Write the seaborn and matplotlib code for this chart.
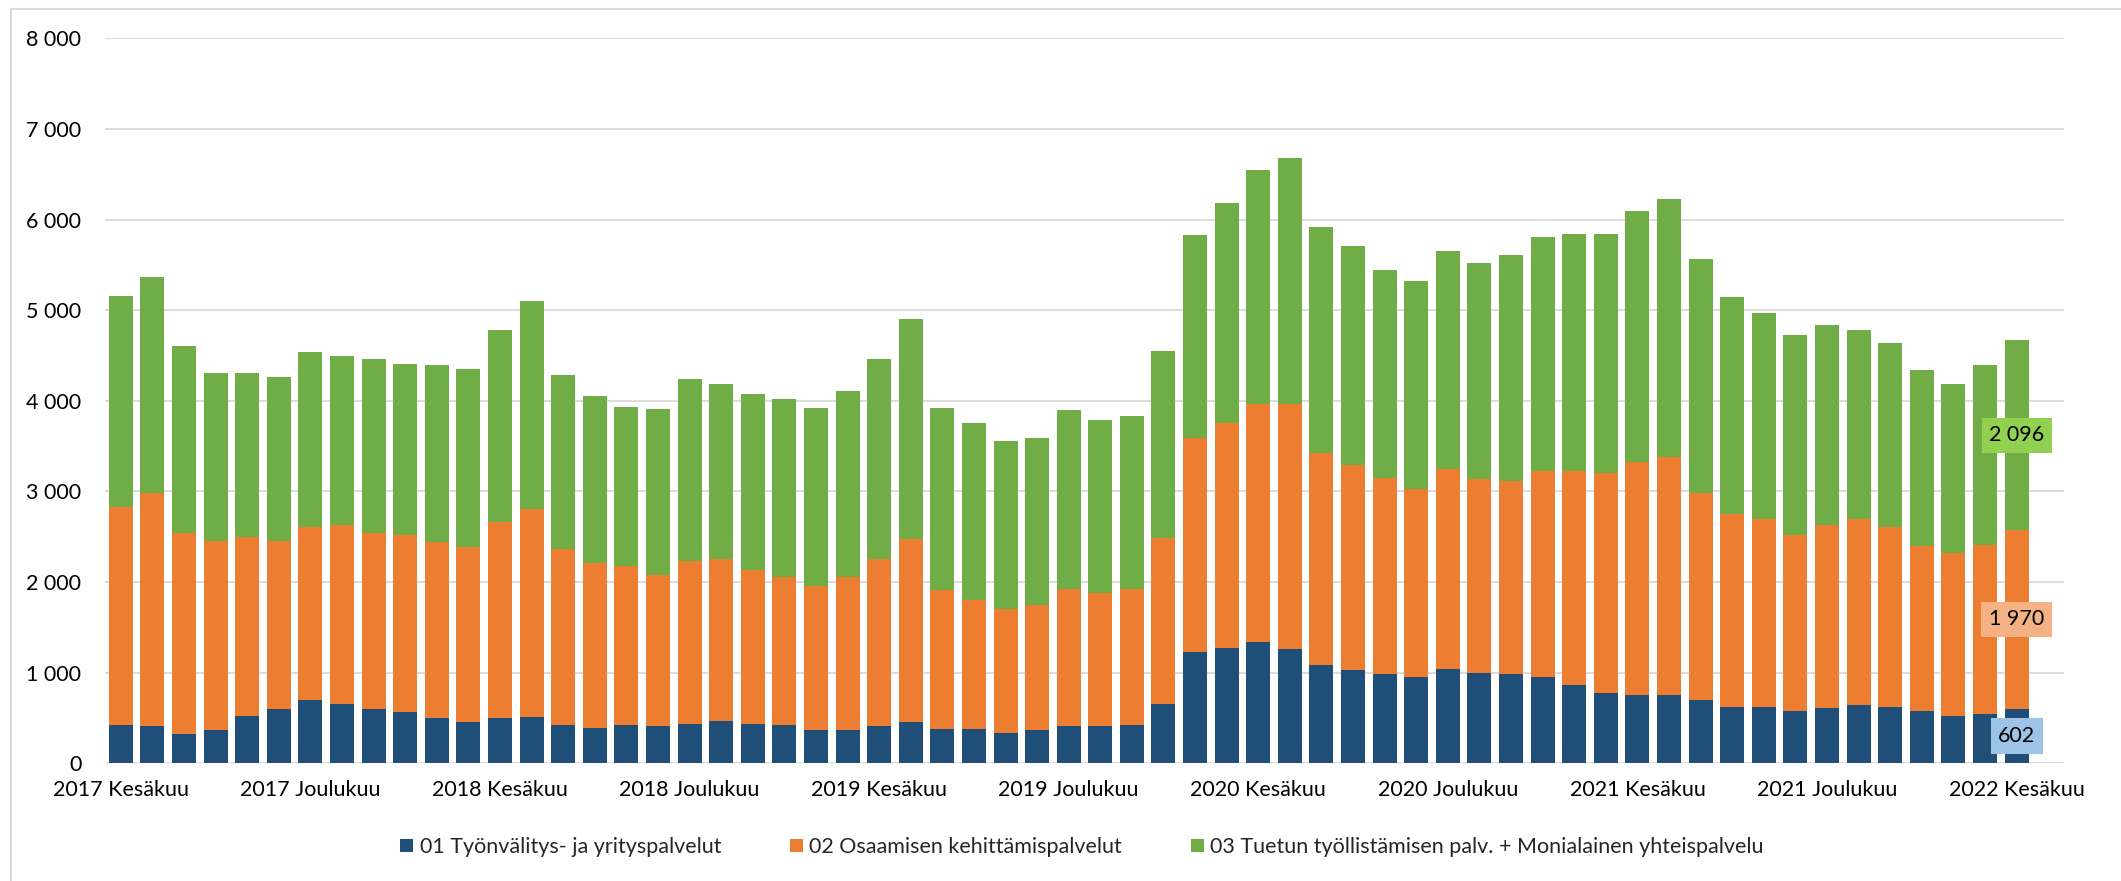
import numpy as np
import pandas as pd
import matplotlib
matplotlib.use("Agg")
import matplotlib.pyplot as plt
import seaborn as sns
from matplotlib.patches import Patch, Rectangle
from matplotlib.ticker import FuncFormatter

# ---- categories ----
month_names = ["Tammikuu", "Helmikuu", "Maaliskuu", "Huhtikuu", "Toukokuu", "Kesäkuu",
               "Heinäkuu", "Elokuu", "Syyskuu", "Lokakuu", "Marraskuu", "Joulukuu"]
months = [f"{2017 + (5 + i) // 12} {month_names[(5 + i) % 12]}" for i in range(61)]

series_names = ["01 Työnvälitys- ja yrityspalvelut",
                "02 Osaamisen kehittämispalvelut",
                "03 Tuetun työllistämisen palv. + Monialainen yhteispalvelu"]

# ---- values ----
s1 = [423, 408, 320, 364, 526, 599, 702, 658, 599, 570,
      496, 452, 496, 511, 423, 393, 423, 408, 437, 467,
      437, 423, 364, 364, 408, 452, 379, 379, 335, 364,
      408, 408, 423, 658, 1231, 1275, 1334, 1261, 1084, 1025,
      981, 952, 1040, 996, 981, 952, 864, 776, 757, 757,
      702, 625, 625, 581, 614, 643, 625, 581, 526, 540, 602]
s2 = [2400, 2577, 2224, 2092, 1974, 1857, 1901, 1974, 1945, 1944,
      1945, 1930, 2165, 2297, 1944, 1813, 1753, 1665, 1798, 1783,
      1691, 1632, 1588, 1691, 1842, 2018, 1529, 1426, 1367, 1382,
      1515, 1470, 1500, 1823, 2364, 2482, 2629, 2702, 2342, 2269,
      2166, 2077, 2210, 2136, 2136, 2268, 2356, 2429, 2566, 2625,
      2283, 2125, 2066, 1933, 2018, 2048, 1978, 1816, 1797, 1871, 1970]
s3 = [2336, 2379, 2056, 1850, 1806, 1805, 1938, 1865, 1920, 1895,
      1953, 1968, 2115, 2291, 1923, 1849, 1761, 1835, 2011, 1937,
      1952, 1970, 1970, 2058, 2216, 2438, 2014, 1952, 1855, 1841,
      1975, 1914, 1913, 2065, 2230, 2424, 2585, 2718, 2487, 2413,
      2296, 2297, 2398, 2384, 2487, 2590, 2619, 2634, 2766, 2840,
      2575, 2399, 2281, 2208, 2208, 2090, 2031, 1943, 1867, 1988, 2096]

yticks = [0, 1000, 2000, 3000, 4000, 5000, 6000, 7000, 8000]

c_blue, c_orange, c_green = "#1F4E79", "#ED7D31", "#70AD47"
l_blue, l_orange, l_green = "#9DC3E6", "#F4B183", "#92D050"
grid_c = "#D9D9D9"

df = pd.DataFrame({"kk": months, "s1": s1, "s2": s2, "s3": s3})
df["top2"] = df["s1"] + df["s2"]
df["top3"] = df["top2"] + df["s3"]

sns.set_theme(style="white")
plt.rcParams["font.family"] = ["Lato", "DejaVu Sans"]

W, H = 2121, 881
fig = plt.figure(figsize=(W / 100, H / 100), dpi=100)
left, right, bottom, top = 105, 2064, 763.3, 38.3
ax = fig.add_axes([left / W, 1 - bottom / H, (right - left) / W, (bottom - top) / H])

bw = 0.76
for col, c in [("top3", c_green), ("top2", c_orange), ("s1", c_blue)]:
    sns.barplot(data=df, x="kk", y=col, order=months, color=c, saturation=1,
                width=bw, linewidth=0, ax=ax)

ax.set_xlim(-0.5, len(months) + 0.5)
ax.set_ylim(0, 8000)
ax.set_yticks(yticks)
ax.yaxis.set_major_formatter(FuncFormatter(lambda v, p: f"{int(v):,}".replace(",", " ")))
ax.set_xticks(range(0, len(months), 6))
ax.set_xticklabels(months[::6])
ax.set_xlabel("")
ax.set_ylabel("")
ax.yaxis.grid(True, color=grid_c, linewidth=1.3)
ax.set_axisbelow(True)
for sp in ax.spines.values():
    sp.set_visible(False)
ax.tick_params(axis="x", length=0, pad=12, labelsize=15.5, labelcolor="black")
ax.tick_params(axis="y", length=0, pad=17, labelsize=15.5, labelcolor="black")

# data labels on last bar
i = len(months) - 1
for val, base, fc in [(s1[i], 0, l_blue), (s2[i], s1[i], l_orange), (s3[i], s1[i] + s2[i], l_green)]:
    ax.text(i, base + val / 2, f"{val:,}".replace(",", " "), ha="center", va="center",
            fontsize=15.5, color="black",
            bbox=dict(boxstyle="square,pad=0.35", facecolor=fc, edgecolor="none"))

handles = [Patch(facecolor=c, edgecolor="none", label=n)
           for c, n in zip([c_blue, c_orange, c_green], series_names)]
fig.legend(handles=handles, loc="center", bbox_to_anchor=(1082 / W, 1 - 847 / H),
           ncol=3, frameon=False, fontsize=15.5, handlelength=0.6, handleheight=0.6,
           handletextpad=0.3, columnspacing=3.2)

fig.patches.append(Rectangle((11.5 / W, -0.05), 1.2, (1 - 9.3 / H) + 0.05,
                             transform=fig.transFigure, fill=False,
                             edgecolor=grid_c, linewidth=1.5))

fig.savefig("out.png", dpi=100)
